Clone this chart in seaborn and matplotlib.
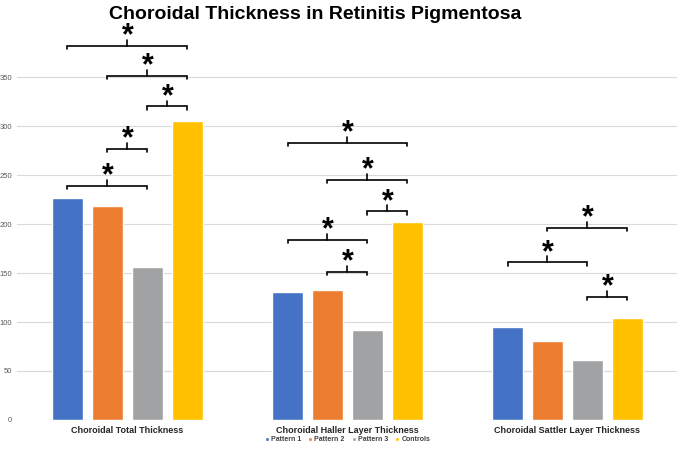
import matplotlib
matplotlib.use("Agg")
import matplotlib.pyplot as plt
import seaborn as sns
import pandas as pd

categories = ["Choroidal Total Thickness", "Choroidal Haller Layer Thickness", "Choroidal Sattler Layer Thickness"]
groups = ["Pattern 1", "Pattern 2", "Pattern 3", "Controls"]
pattern1 = [227, 131, 95]
pattern2 = [218, 133, 81]
pattern3 = [156, 92, 61]
controls = [305, 202, 104]
yticks = [0, 50, 100, 150, 200, 250, 300, 350]

# significance brackets: (category index, group a, group b, bracket height)
brackets = [
    (0, 0, 3, 382), (0, 1, 3, 351), (0, 2, 3, 320), (0, 1, 2, 277), (0, 0, 2, 239),
    (1, 0, 3, 283), (1, 1, 3, 245), (1, 2, 3, 213), (1, 0, 2, 184), (1, 1, 2, 151),
    (2, 1, 3, 196), (2, 0, 2, 161), (2, 2, 3, 126),
]

colors = ["#4472C4", "#ED7D31", "#A0A2A3", "#FFC000"]

sns.set_theme(style="white")
plt.rcParams["font.family"] = ["Liberation Sans", "DejaVu Sans"]

rows = []
for vals, g in zip([pattern1, pattern2, pattern3, controls], groups):
    for c, v in zip(categories, vals):
        rows.append({"cat": c, "group": g, "val": v})
df = pd.DataFrame(rows)

fig = plt.figure(figsize=(6.8, 4.49), dpi=100)
ax = fig.add_axes([0.0257, 0.0646, 0.9706, 0.873])
sns.barplot(data=df, x="cat", y="val", hue="group", order=categories, hue_order=groups,
            palette=colors, width=0.727, gap=0.225, saturation=1, ax=ax, legend=True)
ax.set_xlim(-0.5, 2.5)
ax.set_ylim(0, 400)
ax.set_yticks(yticks)
ax.set_yticklabels([str(t) for t in yticks], fontsize=5.5, color="#595959")
ax.tick_params(axis="y", length=0, pad=4)
ax.tick_params(axis="x", length=0, pad=4)
ax.set_xticks(range(len(categories)))
ax.set_xticklabels(categories, fontsize=6.5, fontweight="bold", color="#262626")
ax.set_xlabel("")
ax.set_ylabel("")
for s in ax.spines.values():
    s.set_visible(False)
ax.yaxis.grid(True, color="#d9d9d9", linewidth=0.8)
ax.set_axisbelow(True)

def center(h, c):
    p = ax.containers[h][c]
    return p.get_x() + p.get_width() / 2

for c, a, b, hgt in brackets:
    x1, x2 = center(a, c), center(b, c)
    xm = (x1 + x2) / 2
    ax.plot([x1, x1, x2, x2], [hgt - 3.5, hgt, hgt, hgt - 3.5], color="black", lw=1.2,
            clip_on=False, solid_joinstyle="miter")
    ax.plot([xm, xm], [hgt, hgt + 6], color="black", lw=1.2, clip_on=False)
    ax.annotate("*", (xm, hgt), xytext=(0, 1), textcoords="offset points",
                ha="center", va="baseline", fontsize=22, fontweight="bold", color="black",
                annotation_clip=False)

leg = ax.legend(loc="upper center", bbox_to_anchor=(0.5, -0.035), ncol=4, frameon=False,
                fontsize=5, handlelength=0.6, handleheight=0.6, handletextpad=0.3,
                columnspacing=1.0, borderaxespad=0)
for t in leg.get_texts():
    t.set_fontweight("bold")
    t.set_color("#404040")

fig.text(0.463, 0.986, "Choroidal Thickness in Retinitis Pigmentosa", ha="center", va="top",
         fontsize=14, fontweight="bold", color="black")

fig.savefig("out.png", dpi=100)
